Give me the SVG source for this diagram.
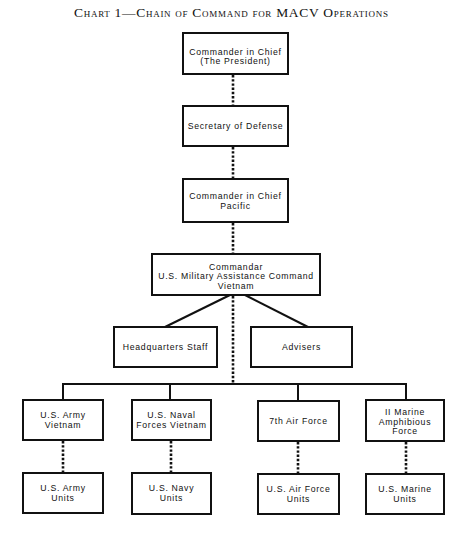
<svg xmlns="http://www.w3.org/2000/svg" width="468" height="540" viewBox="0 0 468 540">
<style>
.box{fill:#fff;stroke:#111;stroke-width:2}
.t{font-family:"Liberation Sans",Arial,sans-serif;font-size:8.7px;letter-spacing:0.7px;fill:#111;text-anchor:middle}
.title{font-family:"Liberation Serif","Times New Roman",serif;font-size:13.5px;font-variant:small-caps;fill:#111;text-anchor:middle}
.dot{stroke:#111;stroke-width:2.6;stroke-dasharray:2.4 1.8;fill:none}
.sol{stroke:#111;stroke-width:2;fill:none}
</style>
<rect width="468" height="540" fill="#fff"/>
<text class="title" x="231" y="17" textLength="314" lengthAdjust="spacing">Chart 1—Chain of Command for MACV Operations</text>
<g id="connectors">
<line class="dot" x1="233" y1="75" x2="233" y2="106"/>
<line class="dot" x1="233" y1="147" x2="233" y2="179"/>
<line class="dot" x1="233" y1="223" x2="233" y2="254"/>
<line class="dot" x1="233" y1="296" x2="233" y2="384"/>
<line class="sol" x1="230" y1="295" x2="165" y2="327"/>
<line class="sol" x1="245" y1="295" x2="308" y2="327"/>
<path class="sol" d="M63,400 V384 H406 V400"/>
<line class="sol" x1="170" y1="384" x2="170" y2="400"/>
<line class="sol" x1="298" y1="384" x2="298" y2="401"/>
<line class="dot" x1="63" y1="441" x2="63" y2="473"/>
<line class="dot" x1="171" y1="441" x2="171" y2="473"/>
<line class="dot" x1="298" y1="442" x2="298" y2="474"/>
<line class="dot" x1="406" y1="442" x2="406" y2="474"/>
</g>
<g id="n-cinc">
<rect class="box" x="183" y="33" width="105" height="41"/>
<text class="t" x="235.5" y="55">Commander in Chief</text>
<text class="t" x="235.5" y="64">(The President)</text>
</g>
<g id="n-secdef">
<rect class="box" x="183" y="106" width="105" height="40"/>
<text class="t" x="235.5" y="129">Secretary of Defense</text>
</g>
<g id="n-cincpac">
<rect class="box" x="183" y="179" width="105" height="43"/>
<text class="t" x="235.5" y="199">Commander in Chief</text>
<text class="t" x="235.5" y="208.5">Pacific</text>
</g>
<g id="n-macv">
<rect class="box" x="152" y="254" width="168" height="41"/>
<text class="t" x="236" y="269.5">Commandar</text>
<text class="t" x="236" y="279">U.S. Military Assistance Command</text>
<text class="t" x="236" y="288.5">Vietnam</text>
</g>
<g id="n-hq">
<rect class="box" x="114" y="327" width="103" height="40"/>
<text class="t" x="165.5" y="350">Headquarters Staff</text>
</g>
<g id="n-advisers">
<rect class="box" x="251" y="327" width="101" height="40"/>
<text class="t" x="301.5" y="350">Advisers</text>
</g>
<g id="n-usarv">
<rect class="box" x="23" y="400" width="80" height="40"/>
<text class="t" x="63" y="418">U.S. Army</text>
<text class="t" x="63" y="428">Vietnam</text>
</g>
<g id="n-navforv">
<rect class="box" x="132" y="400" width="79" height="40"/>
<text class="t" x="171.5" y="418">U.S. Naval</text>
<text class="t" x="171.5" y="428">Forces Vietnam</text>
</g>
<g id="n-7af">
<rect class="box" x="258" y="401" width="81" height="40"/>
<text class="t" x="298.5" y="424">7th Air Force</text>
</g>
<g id="n-3maf">
<rect class="box" x="366" y="400" width="78" height="41"/>
<text class="t" x="405" y="415">II Marine</text>
<text class="t" x="405" y="424.5">Amphibious</text>
<text class="t" x="405" y="434">Force</text>
</g>
<g id="n-army-units">
<rect class="box" x="23" y="473" width="80" height="40"/>
<text class="t" x="63" y="491">U.S. Army</text>
<text class="t" x="63" y="501">Units</text>
</g>
<g id="n-navy-units">
<rect class="box" x="132" y="473" width="79" height="41"/>
<text class="t" x="171.5" y="491">U.S. Navy</text>
<text class="t" x="171.5" y="501">Units</text>
</g>
<g id="n-af-units">
<rect class="box" x="258" y="474" width="81" height="40"/>
<text class="t" x="298.5" y="492">U.S. Air Force</text>
<text class="t" x="298.5" y="502">Units</text>
</g>
<g id="n-marine-units">
<rect class="box" x="366" y="474" width="78" height="40"/>
<text class="t" x="405" y="492">U.S. Marine</text>
<text class="t" x="405" y="502">Units</text>
</g>
</svg>
